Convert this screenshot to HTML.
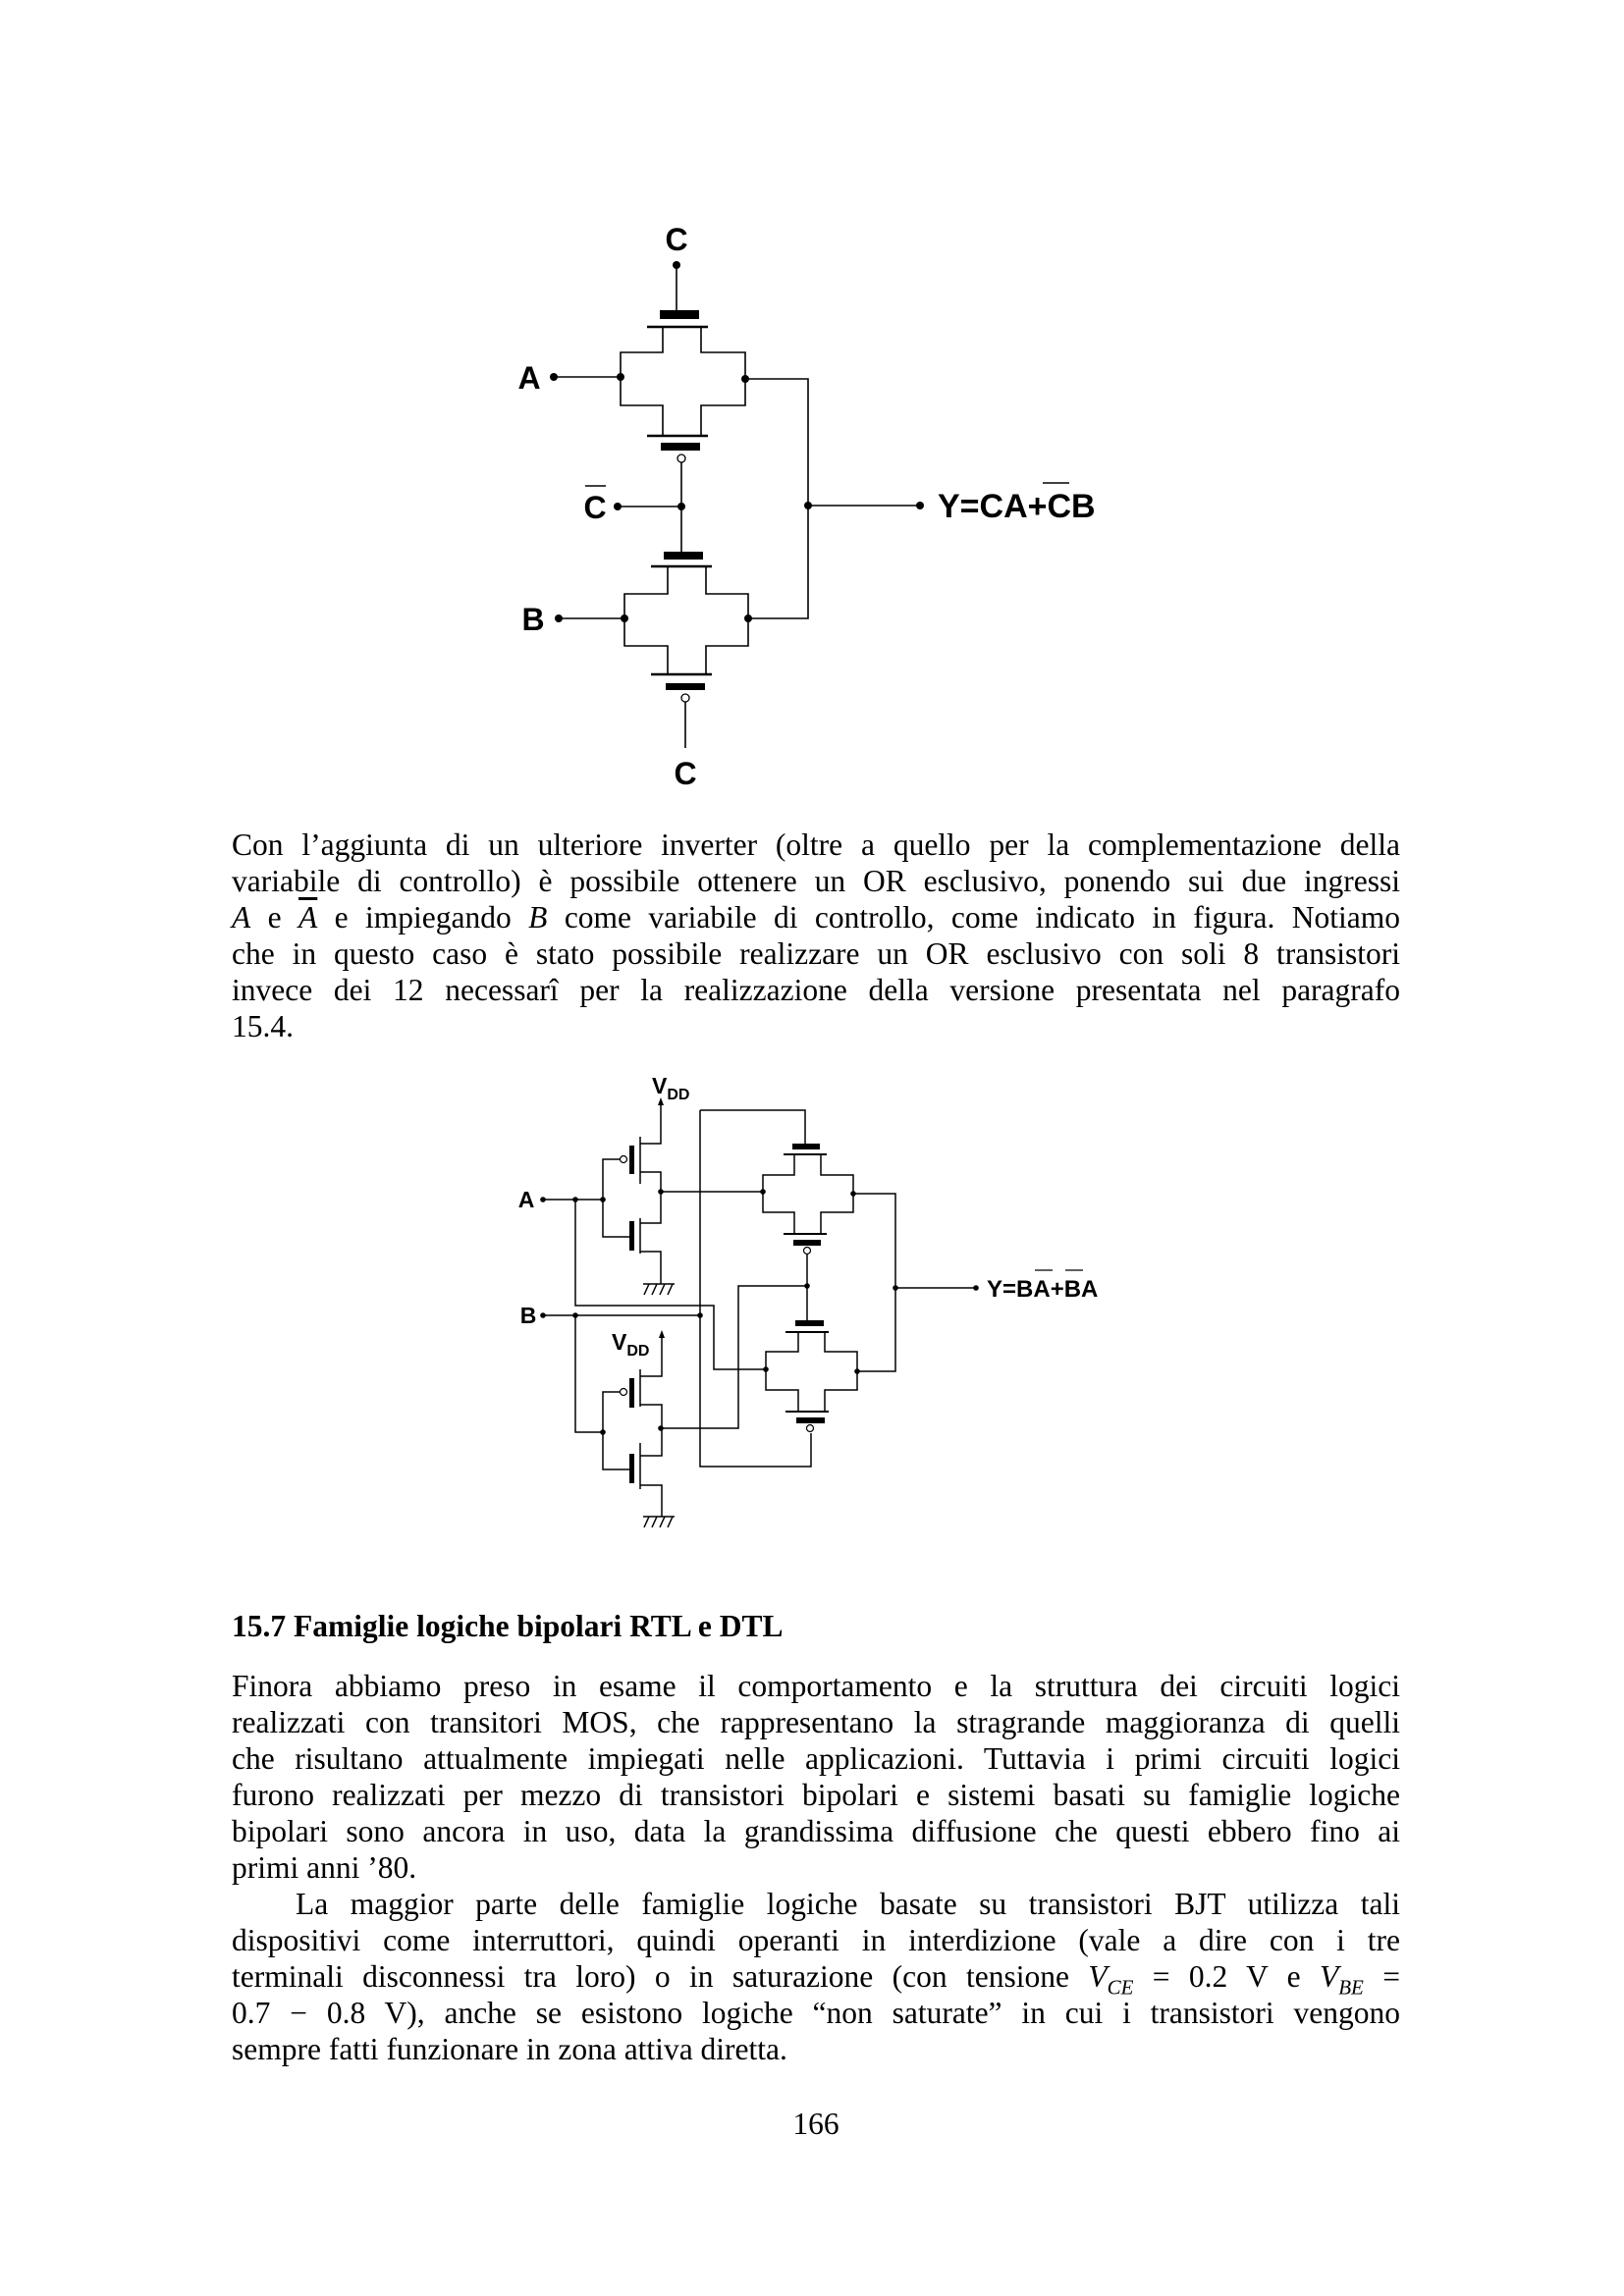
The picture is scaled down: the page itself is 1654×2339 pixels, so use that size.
<!DOCTYPE html>
<html><head><meta charset="utf-8"><style>
body{margin:0;background:#fff}
#p{position:relative;width:1654px;height:2339px;background:#fff;overflow:hidden}
.l{position:absolute;left:236px;width:1190px;font-family:"Liberation Serif",serif;font-size:31.5px;line-height:37px;white-space:nowrap;text-align:justify;text-align-last:justify;color:#000}
.n{text-align-last:left}
.ov{text-decoration:overline}
svg{position:absolute;left:0;top:0}
</style></head><body><div id="p">
<svg width="1654" height="2339" viewBox="0 0 1654 2339">
<g stroke="#000" stroke-width="1.6" fill="none">
<line x1="689" y1="270" x2="689" y2="316"/>
<line x1="659" y1="333" x2="721" y2="333" stroke-width="2.5"/>
<path d="M675,333V359H632V413H675V444M714,333V359H759V413H714V444"/>
<line x1="659" y1="444" x2="721" y2="444" stroke-width="2.5"/>
<line x1="694" y1="471" x2="694" y2="562"/>
<line x1="564" y1="384" x2="632" y2="384"/>
<path d="M759,386H823V630H762"/>
<line x1="629" y1="516" x2="694" y2="516"/>
<line x1="823" y1="515" x2="937" y2="515"/>
<line x1="663" y1="577" x2="725" y2="577" stroke-width="2.5"/>
<path d="M680,577V605H636V658H680V687M719,577V605H762V658H719V687"/>
<line x1="663" y1="687" x2="725" y2="687" stroke-width="2.5"/>
<line x1="698" y1="715" x2="698" y2="762"/>
<line x1="569" y1="630" x2="636" y2="630"/>
</g>
<g fill="#000">
<rect x="672" y="316" width="40" height="9"/>
<rect x="673" y="451" width="40" height="8"/>
<rect x="676" y="562" width="40" height="8"/>
<rect x="678" y="696" width="40" height="7"/>
<circle cx="689" cy="270" r="4"/><circle cx="564" cy="384" r="4"/><circle cx="632" cy="384" r="4"/><circle cx="759" cy="386" r="4"/>
<circle cx="629" cy="516" r="4"/><circle cx="694" cy="516" r="4"/><circle cx="823" cy="515" r="4"/><circle cx="937" cy="515" r="4"/>
<circle cx="569" cy="630" r="4"/><circle cx="636" cy="630" r="4"/><circle cx="762" cy="630" r="4"/>
</g>
<g fill="#fff" stroke="#000" stroke-width="1.3">
<circle cx="694" cy="467" r="4"/><circle cx="698" cy="711" r="4"/>
</g>
<g font-family="Liberation Sans,sans-serif" font-weight="bold" fill="#000">
<text x="689" y="255" font-size="32" text-anchor="middle">C</text>
<text x="539" y="396" font-size="32" text-anchor="middle">A</text>
<text x="606" y="528" font-size="32" text-anchor="middle">C</text>
<text x="543" y="642" font-size="32" text-anchor="middle">B</text>
<text x="698" y="799" font-size="32" text-anchor="middle">C</text>
<text x="955" y="527" font-size="34">Y=CA+CB</text>
</g>
<g stroke="#000" stroke-width="1.5">
<line x1="596" y1="495" x2="617" y2="495"/>
<line x1="1062" y1="492" x2="1089" y2="492"/>
</g>

<g transform="translate(0,-8)">
<g stroke="#000" stroke-width="1.5" fill="none">
<path d="M673,1132V1173H652"/>
<line x1="652" y1="1166" x2="652" y2="1214"/>
<path d="M631,1189H614V1268H641"/>
<path d="M652,1202H673V1254H652"/>
<line x1="652" y1="1249" x2="652" y2="1285"/>
<path d="M652,1283H673V1316"/>
<line x1="655" y1="1316" x2="687" y2="1316"/>
<path d="M661,1316l-5,11M669,1316l-5,11M677,1316l-5,11M685,1316l-5,11"/>
<line x1="553" y1="1230" x2="614" y2="1230"/>
<path d="M586,1230V1338H727V1403H780"/>
<line x1="553" y1="1348" x2="713" y2="1348"/>
<path d="M586,1348V1467H614"/>
<path d="M713,1139V1502H826V1468"/>
<path d="M713,1139H820V1173"/>
<line x1="673" y1="1222" x2="777" y2="1222"/>
<line x1="798" y1="1184" x2="842" y2="1184" stroke-width="2"/>
<path d="M809,1184V1205H777V1243H809V1265M836,1184V1205H869V1243H836V1265"/>
<line x1="798" y1="1265" x2="842" y2="1265" stroke-width="2"/>
<path d="M822,1286V1318H752V1463H673"/>
<line x1="822" y1="1318" x2="822" y2="1353"/>
<line x1="800" y1="1365" x2="844" y2="1365" stroke-width="2"/>
<path d="M813,1365V1385H780V1424H813V1446M840,1365V1385H873V1424H840V1446"/>
<line x1="800" y1="1446" x2="844" y2="1446" stroke-width="2"/>
<path d="M869,1224H912V1405H873"/>
<line x1="912" y1="1320" x2="994" y2="1320"/>
<path d="M674,1370V1410H652"/>
<line x1="652" y1="1403" x2="652" y2="1441"/>
<path d="M631,1426H614V1505H641"/>
<path d="M652,1439H674V1491H652"/>
<line x1="652" y1="1478" x2="652" y2="1525"/>
<path d="M652,1521H674V1553"/>
<line x1="655" y1="1553" x2="687" y2="1553"/>
<path d="M661,1553l-5,11M669,1553l-5,11M677,1553l-5,11M685,1553l-5,11"/>
</g>
<g fill="#000">
<path d="M673,1126l-3,8h6z"/><path d="M674,1363l-3,8h6z"/>
<rect x="641" y="1175" width="5" height="29"/>
<rect x="641" y="1252" width="5" height="30"/>
<rect x="641" y="1412" width="5" height="30"/>
<rect x="641" y="1489" width="5" height="30"/>
<rect x="807" y="1173" width="28" height="6"/>
<rect x="808" y="1271" width="28" height="6"/>
<rect x="810" y="1353" width="29" height="6"/>
<rect x="811" y="1452" width="29" height="6"/>
<circle cx="553" cy="1230" r="2.8"/><circle cx="586" cy="1230" r="2.8"/><circle cx="614" cy="1230" r="2.8"/>
<circle cx="673" cy="1222" r="2.8"/><circle cx="777" cy="1222" r="2.8"/><circle cx="869" cy="1224" r="2.8"/>
<circle cx="822" cy="1318" r="2.8"/><circle cx="912" cy="1320" r="2.8"/><circle cx="994" cy="1320" r="2.8"/>
<circle cx="553" cy="1348" r="2.8"/><circle cx="586" cy="1348" r="2.8"/><circle cx="713" cy="1348" r="2.8"/>
<circle cx="780" cy="1403" r="2.8"/><circle cx="873" cy="1405" r="2.8"/>
<circle cx="614" cy="1467" r="2.8"/><circle cx="673" cy="1463" r="2.8"/>
</g>
<g fill="#fff" stroke="#000" stroke-width="1.2">
<circle cx="635" cy="1189" r="3.5"/><circle cx="822" cy="1282" r="3.5"/>
<circle cx="825" cy="1463" r="3.5"/><circle cx="635" cy="1426" r="3.5"/>
</g>
<g font-family="Liberation Sans,sans-serif" font-weight="bold" fill="#000">
<text x="664" y="1122" font-size="23">V<tspan font-size="16" dy="6">DD</tspan></text>
<text x="623" y="1383" font-size="23">V<tspan font-size="16" dy="6">DD</tspan></text>
<text x="536" y="1238" font-size="23" text-anchor="middle">A</text>
<text x="538" y="1356" font-size="23" text-anchor="middle">B</text>
<text x="1005" y="1329" font-size="24">Y=BA+BA</text>
</g>
<g stroke="#000" stroke-width="1.3">
<line x1="1054" y1="1302" x2="1072" y2="1302"/>
<line x1="1085" y1="1302" x2="1103" y2="1302"/>
</g>
</g>
</svg>

<div class="l" style="top:842px">Con l’aggiunta di un ulteriore inverter (oltre a quello per la complementazione della</div>
<div class="l" style="top:879px">variabile di controllo) è possibile ottenere un OR esclusivo, ponendo sui due ingressi</div>
<div class="l" style="top:916px"><i>A</i> e <i class="ov">A</i> e impiegando <i>B</i> come variabile di controllo, come indicato in figura. Notiamo</div>
<div class="l" style="top:953px">che in questo caso è stato possibile realizzare un OR esclusivo con soli 8 transistori</div>
<div class="l" style="top:990px">invece dei 12 necessarî per la realizzazione della versione presentata nel paragrafo</div>
<div class="l n" style="top:1027px">15.4.</div>

<div class="l n" style="top:1638px;font-weight:bold">15.7 Famiglie logiche bipolari RTL e DTL</div>
<div class="l" style="top:1699px">Finora abbiamo preso in esame il comportamento e la struttura dei circuiti logici</div>
<div class="l" style="top:1736px">realizzati con transitori MOS, che rappresentano la stragrande maggioranza di quelli</div>
<div class="l" style="top:1773px">che risultano attualmente impiegati nelle applicazioni. Tuttavia i primi circuiti logici</div>
<div class="l" style="top:1810px">furono realizzati per mezzo di transistori bipolari e sistemi basati su famiglie logiche</div>
<div class="l" style="top:1847px">bipolari sono ancora in uso, data la grandissima diffusione che questi ebbero fino ai</div>
<div class="l n" style="top:1884px">primi anni ’80.</div>
<div class="l" style="top:1921px;left:301px;width:1125px">La maggior parte delle famiglie logiche basate su transistori BJT utilizza tali</div>
<div class="l" style="top:1958px">dispositivi come interruttori, quindi operanti in interdizione (vale a dire con i tre</div>
<div class="l" style="top:1995px">terminali disconnessi tra loro) o in saturazione (con tensione <i>V<sub style="font-size:21px">CE</sub></i> = 0.2 V e <i>V<sub style="font-size:21px">BE</sub></i> =</div>
<div class="l" style="top:2032px">0.7 − 0.8 V), anche se esistono logiche “non saturate” in cui i transistori vengono</div>
<div class="l n" style="top:2069px">sempre fatti funzionare in zona attiva diretta.</div>
<div class="l n" style="top:2145px;text-align:center;text-align-last:center">166</div>
</div></body></html>
